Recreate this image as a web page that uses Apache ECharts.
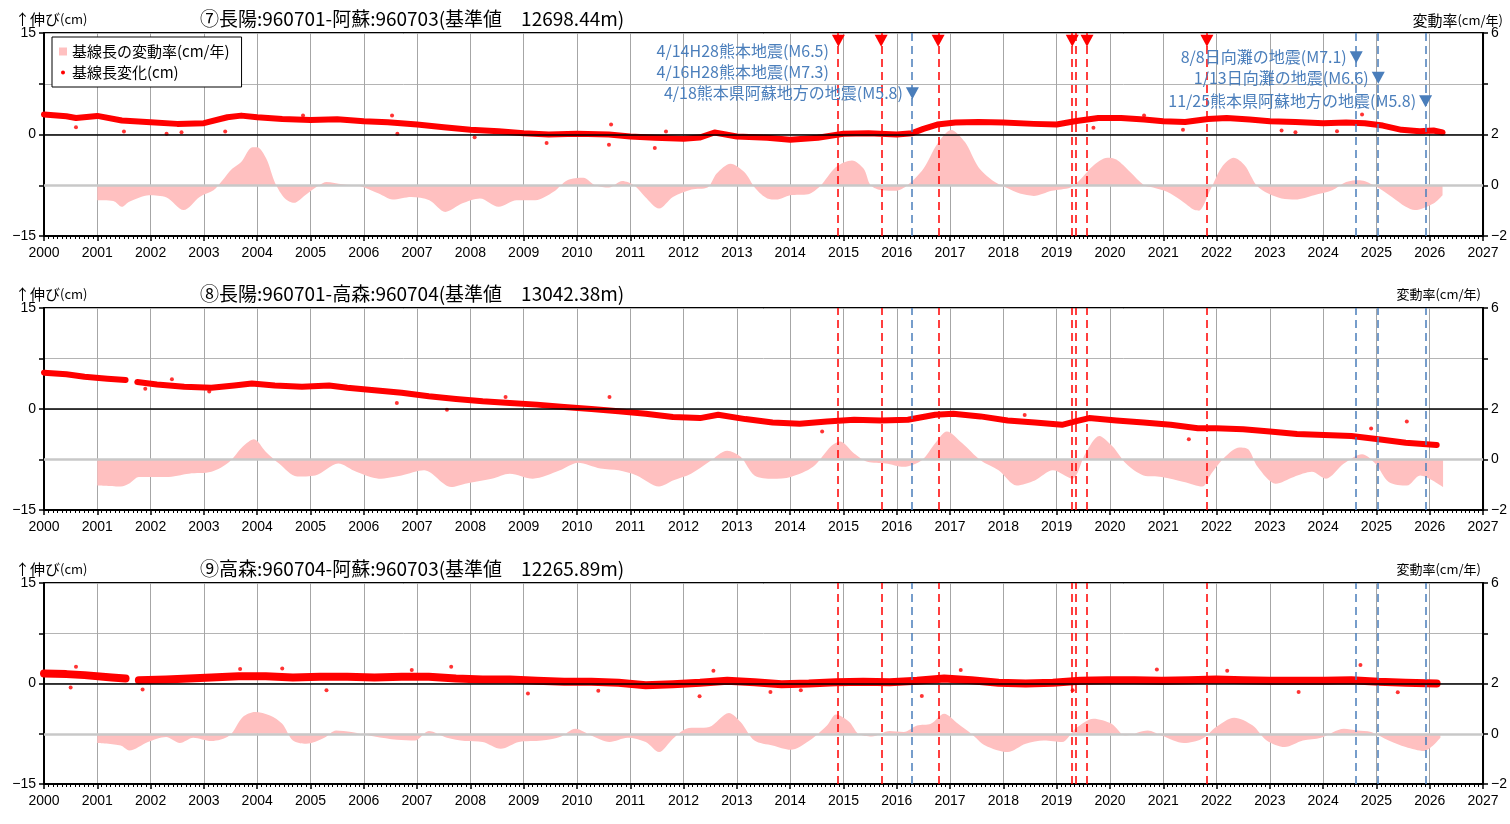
<!DOCTYPE html>
<html><head><meta charset="utf-8">
<script src="https://cdn.jsdelivr.net/npm/echarts@6/dist/echarts.min.js"></script>
<style>html,body{margin:0;padding:0;background:#fff}#c{width:1510px;height:824px}</style>
</head><body><div id="c"></div>
<script>
// ---------- data ----------
const panelTitles = ['⑦長陽:960701-阿蘇:960703(基準値　12698.44m)', '⑧長陽:960701-高森:960704(基準値　13042.38m)', '⑨高森:960704-阿蘇:960703(基準値　12265.89m)'];
const yearMin = 2000, yearMax = 2027;

// panel 7 : baseline change (cm)
const p1BandT = [2000.0,2000.42,2000.6,2001.0,2001.46,2002.0,2002.5,2003.0,2003.44,2003.7,2004.0,2004.47,2005.0,2005.5,2006.0,2006.45,2007.0,2007.5,2008.0,2008.53,2009.0,2009.47,2010.0,2010.6,2011.0,2011.46,2012.0,2012.3,2012.58,2013.0,2013.57,2014.0,2014.52,2015.0,2015.47,2016.0,2016.29,2016.5,2016.76,2017.1,2017.53,2018.0,2018.57,2019.0,2019.34,2019.78,2020.21,2020.64,2021.0,2021.41,2021.84,2022.19,2022.62,2023.0,2023.48,2024.0,2024.43,2024.78,2025.12,2025.47,2025.81,2026.07,2026.24];
const p1BandV = [2.94,2.70,2.45,2.75,2.06,1.81,1.57,1.67,2.55,2.79,2.55,2.30,2.16,2.25,1.96,1.81,1.47,1.08,0.69,0.49,0.20,0.00,0.10,0.00,-0.29,-0.49,-0.64,-0.45,0.30,-0.29,-0.49,-0.78,-0.49,0.10,0.20,0.00,0.20,0.83,1.47,1.76,1.86,1.76,1.57,1.47,1.96,2.45,2.45,2.21,1.96,1.86,2.30,2.45,2.21,1.96,1.86,1.67,1.76,1.67,1.32,0.69,0.49,0.59,0.29];
// panel 7 : scattered outlying points
const p1OutT = [2000.6,2001.5,2002.3,2002.58,2003.4,2004.86,2006.53,2006.63,2008.08,2009.43,2010.6,2010.64,2011.46,2011.67,2019.69,2020.64,2021.37,2023.22,2023.48,2024.26,2024.73];
const p1OutV = [1.08,0.44,0.1,0.34,0.44,2.79,2.79,0.1,-0.39,-1.27,-1.52,1.47,-2.0,0.44,0.98,2.79,0.69,0.59,0.34,0.49,2.94];
// panel 7 : rate (cm/yr)
const p1RateT = [2001.0,2001.3,2001.46,2001.6,2001.97,2002.3,2002.62,2002.92,2003.18,2003.35,2003.53,2003.7,2003.91,2004.0,2004.17,2004.34,2004.52,2004.69,2004.9,2005.16,2005.3,2005.6,2005.94,2006.28,2006.54,2006.89,2007.23,2007.53,2007.84,2008.18,2008.53,2008.87,2009.22,2009.56,2009.82,2010.12,2010.34,2010.6,2010.85,2011.07,2011.28,2011.54,2011.8,2012.15,2012.45,2012.62,2012.88,2013.14,2013.35,2013.57,2013.74,2014.0,2014.34,2014.56,2014.86,2015.16,2015.38,2015.51,2015.72,2015.98,2016.2,2016.5,2016.76,2017.02,2017.28,2017.53,2017.79,2018.05,2018.31,2018.57,2018.91,2019.26,2019.43,2019.69,2019.95,2020.12,2020.38,2020.64,2020.81,2021.07,2021.33,2021.59,2021.67,2021.88,2022.1,2022.32,2022.53,2022.75,2022.97,2023.22,2023.48,2023.83,2024.17,2024.43,2024.69,2024.95,2025.29,2025.55,2025.72,2026.07,2026.24];
const p1RateV = [-0.59,-0.62,-0.85,-0.65,-0.39,-0.48,-0.98,-0.46,-0.20,0.20,0.65,0.92,1.50,1.50,1.05,0.07,-0.52,-0.69,-0.39,0,0.13,0.04,-0.04,-0.33,-0.56,-0.46,-0.59,-1.05,-0.72,-0.52,-0.85,-0.59,-0.59,-0.26,0.20,0.30,0,-0.09,0.17,0,-0.46,-0.92,-0.46,-0.17,-0.09,0.46,0.85,0.52,-0.13,-0.52,-0.56,-0.39,-0.35,-0.04,0.72,0.98,0.65,0,-0.20,-0.22,0,0.65,1.63,2.18,1.70,0.72,0.20,-0.09,-0.33,-0.42,-0.22,-0.09,0.20,0.78,1.08,1.01,0.52,0,-0.09,-0.26,-0.59,-0.98,-1.00,-0.20,0.72,1.08,0.78,0,-0.33,-0.52,-0.56,-0.39,-0.20,0.13,0.20,0,-0.46,-0.85,-0.98,-0.72,-0.39];

// panel 8
const p2BandT = [2000.0,2000.42,2000.76,2001.19,2001.53,2001.62,2001.75,2002.12,2002.63,2003.14,2003.57,2003.9,2004.33,2004.84,2005.35,2005.69,2006.2,2006.71,2007.22,2007.73,2008.23,2008.74,2009.25,2009.76,2010.27,2010.78,2011.29,2011.8,2012.31,2012.65,2013.16,2013.67,2014.18,2014.69,2015.2,2015.7,2016.21,2016.72,2017.06,2017.57,2018.08,2018.59,2019.1,2019.35,2019.61,2020.12,2020.63,2021.14,2021.65,2021.99,2022.5,2023.0,2023.51,2024.02,2024.53,2025.04,2025.55,2026.13];
const p2BandV = [5.4,5.15,4.8,4.5,4.3,null,4.0,3.65,3.3,3.15,3.5,3.8,3.5,3.3,3.5,3.15,2.8,2.4,1.9,1.5,1.15,0.9,0.65,0.3,0,-0.35,-0.7,-1.2,-1.35,-0.85,-1.5,-2.0,-2.2,-1.85,-1.6,-1.7,-1.6,-0.85,-0.7,-1.1,-1.7,-2.0,-2.35,-1.85,-1.35,-1.7,-2.0,-2.35,-2.85,-2.85,-3.0,-3.35,-3.7,-3.85,-4.0,-4.5,-5.0,-5.35];
const p2OutT = [2001.9,2002.4,2003.1,2006.62,2007.56,2008.66,2010.61,2014.6,2018.4,2021.48,2024.9,2025.57];
const p2OutV = [3.0,4.4,2.6,0.9,-0.1,1.8,1.8,-3.35,-0.9,-4.5,-2.9,-1.85];
const p2RateT = [2001.0,2001.44,2001.6,2001.78,2002.29,2002.72,2003.14,2003.48,2003.73,2003.94,2004.16,2004.41,2004.75,2005.09,2005.52,2005.86,2006.28,2006.71,2007.13,2007.64,2007.9,2008.4,2008.74,2009.17,2009.68,2010.02,2010.44,2010.78,2011.12,2011.54,2011.8,2012.14,2012.48,2012.82,2013.07,2013.33,2013.67,2014.01,2014.43,2014.77,2014.94,2015.2,2015.45,2015.79,2016.13,2016.47,2016.72,2016.94,2017.23,2017.57,2017.91,2018.25,2018.59,2018.93,2019.29,2019.54,2019.8,2020.05,2020.3,2020.63,2020.97,2021.39,2021.73,2021.9,2022.16,2022.43,2022.6,2022.77,2023.11,2023.45,2023.79,2024.05,2024.39,2024.73,2024.98,2025.23,2025.57,2025.82,2026.25];
const p2RateV = [-1.03,-1.07,-0.95,-0.69,-0.69,-0.56,-0.49,-0.09,0.51,0.80,0.31,-0.16,-0.67,-0.63,-0.16,-0.49,-0.76,-0.63,-0.43,-1.09,-0.96,-0.76,-0.56,-0.76,-0.43,-0.13,-0.36,-0.43,-0.63,-1.07,-0.83,-0.56,-0.09,0.35,0.11,-0.63,-0.76,-0.69,-0.29,0.53,0.71,0.24,-0.09,-0.16,-0.29,-0.03,0.64,1.11,0.64,-0.03,-0.43,-1.03,-0.83,-0.43,-0.76,0.24,0.93,0.51,-0.16,-0.63,-0.69,-0.89,-1.07,-0.56,0.11,0.48,0.40,-0.29,-0.96,-0.69,-0.49,-0.76,-0.16,0.21,-0.16,-0.89,-1.03,-0.63,-1.09];

// panel 9
const p3BandT = [2000.0,2000.42,2000.76,2001.27,2001.53,2001.64,2001.78,2002.29,2002.72,2003.14,2003.65,2004.16,2004.67,2005.18,2005.69,2006.2,2006.71,2007.22,2007.73,2008.23,2008.74,2009.25,2009.76,2010.27,2010.78,2011.29,2011.8,2012.31,2012.82,2013.33,2013.84,2014.35,2014.86,2015.37,2015.87,2016.38,2016.89,2017.4,2017.91,2018.42,2018.93,2019.44,2019.95,2020.46,2020.97,2021.48,2021.99,2022.5,2023.0,2023.51,2024.02,2024.53,2025.04,2025.55,2026.13];
const p3BandV = [1.5,1.4,1.25,0.9,0.75,null,0.5,0.6,0.75,0.9,1.1,1.1,0.9,1.0,1.0,0.9,1.0,1.0,0.75,0.6,0.6,0.4,0.25,0.25,0.1,-0.25,-0.1,0.1,0.4,0.2,-0.1,0,0.2,0.25,0.2,0.4,0.75,0.5,0.1,0,0.1,0.4,0.5,0.5,0.4,0.5,0.6,0.5,0.4,0.4,0.4,0.5,0.25,0.1,0];
const p3OutT = [2000.5,2000.6,2001.85,2003.68,2004.47,2005.3,2006.9,2007.64,2009.08,2010.4,2012.3,2012.56,2013.63,2014.2,2016.47,2017.2,2019.3,2020.88,2022.2,2023.54,2024.7,2025.4];
const p3OutV = [-0.6,2.5,-0.9,2.15,2.25,-1.0,2.0,2.5,-1.5,-1.1,-1.9,1.9,-1.25,-1.0,-1.85,2.0,-1.0,2.1,1.9,-1.25,2.75,-1.3];
const p3RateT = [2001.0,2001.44,2001.6,2001.95,2002.29,2002.55,2002.8,2003.14,2003.48,2003.73,2003.96,2004.24,2004.47,2004.67,2004.92,2005.26,2005.48,2005.77,2006.2,2006.62,2006.96,2007.22,2007.56,2007.9,2008.23,2008.57,2008.91,2009.34,2009.68,2009.97,2010.27,2010.61,2010.95,2011.29,2011.54,2011.8,2012.05,2012.48,2012.85,2013.07,2013.33,2013.67,2014.01,2014.35,2014.69,2014.86,2015.11,2015.28,2015.53,2015.87,2016.13,2016.38,2016.64,2016.89,2017.15,2017.4,2017.66,2018.08,2018.42,2018.76,2019.1,2019.35,2019.69,2020.03,2020.29,2020.71,2020.97,2021.39,2021.73,2021.99,2022.33,2022.68,2022.94,2023.28,2023.62,2023.96,2024.39,2024.64,2024.9,2025.23,2025.55,2025.89,2026.2];
const p3RateV = [-0.37,-0.47,-0.67,-0.33,-0.13,-0.37,-0.16,-0.29,-0.07,0.67,0.87,0.73,0.40,-0.27,-0.40,-0.16,0.13,0.07,-0.11,-0.24,-0.27,0.11,-0.16,-0.29,-0.33,-0.60,-0.33,-0.27,-0.13,0.20,-0.07,-0.33,-0.16,-0.33,-0.73,-0.20,0.20,0.27,0.83,0.47,-0.27,-0.47,-0.64,-0.29,0.33,0.77,0.47,0,-0.11,0.11,0.07,0.33,0.40,0.80,0.40,0,-0.47,-0.73,-0.40,-0.27,-0.33,0.20,0.60,0.40,-0.07,0.13,-0.07,-0.37,-0.20,0.27,0.64,0.33,-0.27,-0.53,-0.27,-0.16,0.20,0.13,0.07,-0.27,-0.53,-0.69,-0.16];

// events (decimal year)
const redEvents = [2014.905, 2015.707, 2016.776, 2019.293, 2019.345, 2019.569, 2021.819];
const blueEvents = [2016.293, 2024.621, 2025.034, 2025.922];
const redMarkerEvents = [2014.905, 2015.707, 2016.776, 2019.293, 2019.569, 2021.819];
const eventTexts = ['4/14H28熊本地震(M6.5)', '4/16H28熊本地震(M7.3)', '4/18熊本県阿蘇地方の地震(M5.8)', '8/8日向灘の地震(M7.1)', '1/13日向灘の地震(M6.6)', '11/25熊本県阿蘇地方の地震(M5.8)'];
const eventTextYears = [2014.905, 2014.905, 2016.293, 2024.621, 2025.034, 2025.922];
const eventTextLevels = [12.4, 9.2, 6.1, 11.4, 8.4, 4.9];
const eventTextMarker = [false, false, true, true, true, true];

const seriesNames = ['基線長の変動率(cm/年)', '基線長変化(cm)'];

// ---------- chart ----------
const FONT_JP = '"Noto Sans CJK JP", "Noto Sans", sans-serif';
const FONT_NUM = '"Liberation Sans", Arial, sans-serif';
const RED = '#ff0000', BLUE = '#4a7ebb', PINK = '#ffc0c0';
const zip = (t, v) => t.map((x, i) => [x, v[i] == null ? '-' : v[i]]);
const bands = [zip(p1BandT, p1BandV), zip(p2BandT, p2BandV), zip(p3BandT, p3BandV)];
const outs = [zip(p1OutT, p1OutV), zip(p2OutT, p2OutV), zip(p3OutT, p3OutV)];
const rates = [zip(p1RateT, p1RateV), zip(p2RateT, p2RateV), zip(p3RateT, p3RateV)];
const gridTops = [33, 308, 583], gridHeights = [203, 202, 201];
const bandWidths = [6, 6, 8];
const downTri = 'path://M0,0 L12,0 L6,11 Z';
const minus = v => (v < 0 ? '−' + (-v) : String(v));
const nrm = {fontWeight: 'normal', fontFamily: FONT_JP, color: '#000'};

const grid = [], xAxis = [], yAxis = [], series = [], title = [];
for (let i = 0; i < 3; i++) {
  const top = gridTops[i];
  grid.push({left: 44, right: 26, top: top, height: gridHeights[i], show: true, borderColor: '#000', borderWidth: 2, backgroundColor: 'transparent'});
  xAxis.push({type: 'value', gridIndex: i, min: yearMin, max: yearMax, interval: 1,
    axisLine: {onZero: false, lineStyle: {color: '#000', width: 2}},
    axisTick: {show: true, length: 5, lineStyle: {color: '#000', width: 1.5}},
    minorTick: {show: true, splitNumber: 12, length: 3, lineStyle: {color: '#000', width: 1}},
    splitLine: {show: true, lineStyle: {color: '#a6a6a6', width: 1}},
    axisLabel: {formatter: v => String(v), fontSize: 14, color: '#000', margin: 10, fontFamily: FONT_NUM}});
  yAxis.push({type: 'value', gridIndex: i, position: 'left', min: -15, max: 15, interval: 7.5,
    axisLine: {show: true, onZero: false, lineStyle: {color: '#000', width: 2}},
    axisTick: {show: true, length: 5, lineStyle: {color: '#000', width: 1.5}},
    axisLabel: {formatter: v => (v === 15 || v === 0 || v === -15) ? minus(v) : '', fontSize: 14, color: '#000', margin: 8, fontFamily: FONT_NUM},
    splitLine: {show: true, lineStyle: {color: '#b4b4b4', width: 1}}});
  yAxis.push({type: 'value', gridIndex: i, position: 'right', min: -2, max: 6, interval: 2,
    axisLine: {show: true, onZero: false, lineStyle: {color: '#000', width: 2}},
    axisTick: {show: true, length: 5, lineStyle: {color: '#000', width: 1.5}},
    axisLabel: {formatter: v => v === 4 ? '' : minus(v), fontSize: 14, color: '#000', margin: 8, fontFamily: FONT_NUM},
    splitLine: {show: false}});

  // rate area (right axis)
  series.push({type: 'line', name: i === 0 ? seriesNames[0] : 'rate' + i, xAxisIndex: i, yAxisIndex: 2 * i + 1,
    data: rates[i], smooth: 0.3, symbol: 'none', showSymbol: false, silent: true, z: 1,
    lineStyle: {width: 0, color: PINK}, itemStyle: {color: PINK}, areaStyle: {color: PINK, opacity: 1},
    markLine: {silent: true, symbol: ['none', 'none'], label: {show: false}, animation: false,
      data: [
        {yAxis: 0, lineStyle: {color: '#c8c8c8', width: 2.5, type: 'solid'}},
        {yAxis: 2, lineStyle: {color: '#000', width: 1.5, type: 'solid'}}
      ]}});

  const evLines = redEvents.map(x => ({xAxis: x, lineStyle: {color: RED, width: 1.5, type: [8, 5]}}))
    .concat(blueEvents.map(x => ({xAxis: x, lineStyle: {color: BLUE, width: 1.5, type: [8, 5]}})));
  const band = {type: 'line', name: i === 0 ? seriesNames[1] : 'band' + i, xAxisIndex: i, yAxisIndex: 2 * i,
    data: bands[i], symbol: 'none', showSymbol: false, silent: true, z: 3,
    lineStyle: {color: RED, width: bandWidths[i], cap: 'round', join: 'round'}, itemStyle: {color: RED},
    markLine: {silent: true, symbol: ['none', 'none'], label: {show: false}, animation: false, data: evLines}};
  if (i === 0) {
    const mp = redMarkerEvents.map(x => ({coord: [x, 13.85], symbol: downTri, symbolSize: [13, 12], itemStyle: {color: RED}, label: {show: false}}));
    eventTexts.forEach((t, k) => {
      mp.push({coord: [eventTextYears[k], eventTextLevels[k]], symbol: eventTextMarker[k] ? downTri : 'circle',
        symbolSize: eventTextMarker[k] ? [13, 12] : 1,
        itemStyle: {color: eventTextMarker[k] ? BLUE : 'rgba(0,0,0,0)'},
        label: {show: true, position: 'left', distance: eventTextMarker[k] ? 3 : 9, formatter: t, color: BLUE, fontSize: 16, fontFamily: FONT_JP}});
    });
    band.markPoint = {silent: true, animation: false, data: mp};
  }
  series.push(band);
  series.push({type: 'scatter', name: 'out' + i, xAxisIndex: i, yAxisIndex: 2 * i, data: outs[i],
    symbol: 'circle', symbolSize: 4, itemStyle: {color: RED}, silent: true, z: 3});

  title.push({text: '{a|↑伸び}{b|(cm)}', left: 10, top: top - 26, textStyle: {rich: {a: Object.assign({fontSize: 15}, nrm), b: Object.assign({fontSize: 13}, nrm)}}});
  title.push({text: panelTitles[i], left: 195, top: top - 29, textStyle: Object.assign({fontSize: 19}, nrm)});
  title.push({text: i === 0 ? '{a|変動率}{b|(cm/年)}' : '{b|変動率(cm/年)}', right: i === 0 ? 2 : 24, top: top - 25,
    textStyle: {rich: {a: Object.assign({fontSize: 15}, nrm), b: Object.assign({fontSize: 13}, nrm)}}});
}

const chart = echarts.init(document.getElementById('c'), null, {renderer: 'canvas'});
chart.setOption({
  animation: false,
  backgroundColor: '#fff',
  title: title,
  grid: grid, xAxis: xAxis, yAxis: yAxis, series: series,
  legend: {left: 52, top: 37, orient: 'vertical', selectedMode: false, z: 20,
    borderColor: '#000', borderWidth: 1, backgroundColor: '#fff', padding: [7, 12, 7, 5], itemGap: 6,
    itemWidth: 8, itemHeight: 8, textStyle: {fontSize: 15, fontFamily: FONT_JP, color: '#000'},
    data: [
      {name: seriesNames[0], icon: 'rect', itemStyle: {color: PINK}},
      {name: seriesNames[1], icon: 'circle', itemStyle: {color: RED, borderColor: '#fff', borderWidth: 4}}
    ]}
});
</script>
</body></html>
